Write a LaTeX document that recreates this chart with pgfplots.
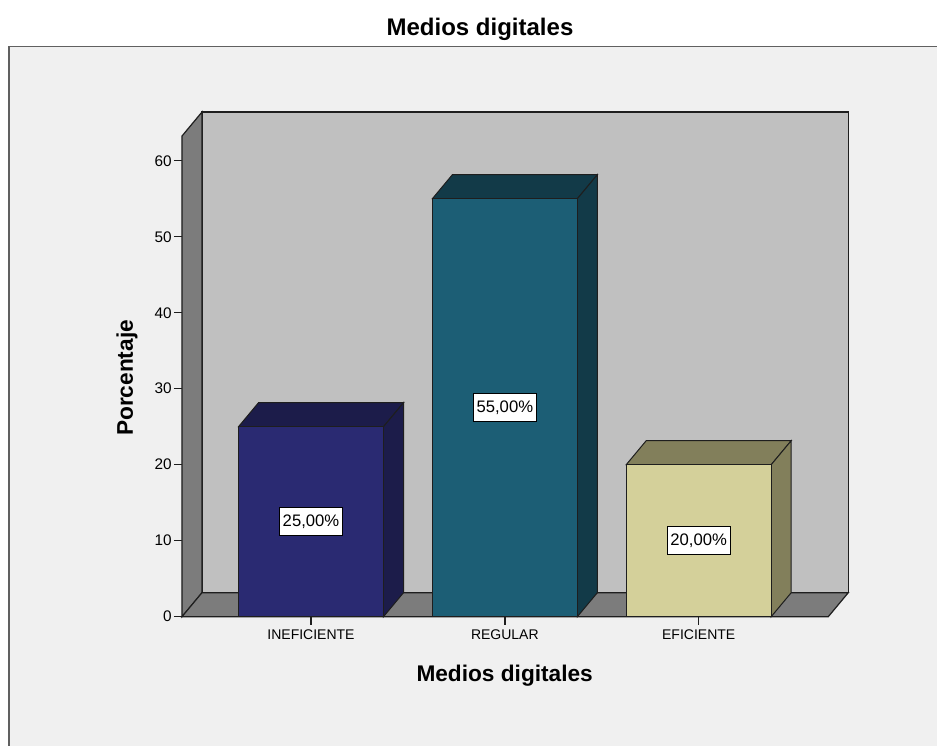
\documentclass[border=0pt]{standalone}
\usepackage{pgfplots}
\pgfplotsset{compat=1.18}
\usetikzlibrary{backgrounds}
\usepackage{fontspec}
\setmainfont{Liberation Sans}
\definecolor{framebg}{HTML}{F0F0F0}
\definecolor{frameline}{HTML}{606060}
\definecolor{backwall}{HTML}{C0C0C0}
\definecolor{sidewall}{HTML}{7C7C7C}
\definecolor{edge}{HTML}{1E1E1E}
\definecolor{inefF}{HTML}{2A2A72}
\definecolor{inefD}{HTML}{1C1C4A}
\definecolor{reguF}{HTML}{1C5E75}
\definecolor{reguD}{HTML}{123A48}
\definecolor{efiF}{HTML}{D4D09A}
\definecolor{efiD}{HTML}{827F5B}
\begin{document}
\begin{tikzpicture}
\begin{axis}[
  scale only axis, width=499.7pt, height=378.5pt,
  xmin=0.3345, xmax=3.7717, ymin=0, ymax=66.41,
  clip=false,
  axis lines*=left,
  axis line style={draw=none},
  tick align=outside,
  major tick length=6pt,
  tick style={edge, line width=1.1pt},
  xtick={1,2,3},
  xticklabels={INEFICIENTE,REGULAR,EFICIENTE},
  ytick={0,10,20,30,40,50,60},
  /pgf/number format/assume math mode=true,
  xticklabel style={font=\fontsize{10.5}{12}\selectfont, inner sep=3.5pt},
  yticklabel style={font=\fontsize{11.5}{13}\selectfont, inner sep=1.5pt},
  xlabel={Medios digitales},
  ylabel={Porcentaje},
  xlabel style={at={(rel axis cs:0.4843,-0.117)}, anchor=center, font=\fontsize{17}{19}\selectfont\bfseries},
  ylabel style={at={(rel axis cs:-0.0825,0.473)}, anchor=center, font=\fontsize{17}{19}\selectfont\bfseries},
]
\coordinate (O) at (axis cs:0.3345,0);
% back wall, left wall, floor
\addplot[fill=backwall, draw=edge, line width=0.9pt] coordinates {(0.4377,3.158) (3.7717,3.158) (3.7717,66.41) (0.4377,66.41)} --cycle;
\addplot[fill=sidewall, draw=edge, line width=0.9pt] coordinates {(0.3345,0) (0.4377,3.158) (0.4377,66.41) (0.3345,63.25)} --cycle;
\addplot[fill=sidewall, draw=edge, line width=0.9pt] coordinates {(0.3345,0) (3.6685,0) (3.7717,3.158) (0.4377,3.158)} --cycle;
% bar 1 INEFICIENTE 25
\addplot[fill=inefD, draw=edge, line width=0.75pt] coordinates {(0.626,25) (1.374,25) (1.4772,28.158) (0.7292,28.158)} --cycle;
\addplot[fill=inefD, draw=edge, line width=0.75pt] coordinates {(1.374,0) (1.4772,3.158) (1.4772,28.158) (1.374,25)} --cycle;
\addplot[ybar, bar width=0.748, bar shift=0pt, fill=inefF, draw=edge, line width=0.75pt] coordinates {(1,25)};
% bar 2 REGULAR 55
\addplot[fill=reguD, draw=edge, line width=0.75pt] coordinates {(1.626,55) (2.374,55) (2.4772,58.158) (1.7292,58.158)} --cycle;
\addplot[fill=reguD, draw=edge, line width=0.75pt] coordinates {(2.374,0) (2.4772,3.158) (2.4772,58.158) (2.374,55)} --cycle;
\addplot[ybar, bar width=0.748, bar shift=0pt, fill=reguF, draw=edge, line width=0.75pt] coordinates {(2,55)};
% bar 3 EFICIENTE 20
\addplot[fill=efiD, draw=edge, line width=0.75pt] coordinates {(2.626,20) (3.374,20) (3.4772,23.158) (2.7292,23.158)} --cycle;
\addplot[fill=efiD, draw=edge, line width=0.75pt] coordinates {(3.374,0) (3.4772,3.158) (3.4772,23.158) (3.374,20)} --cycle;
\addplot[ybar, bar width=0.748, bar shift=0pt, fill=efiF, draw=edge, line width=0.75pt] coordinates {(3,20)};
% value labels
\addplot[draw=none, mark=none, point meta=explicit symbolic,
  nodes near coords,
  every node near coord/.style={anchor=center, fill=white, draw=black, line width=0.6pt,
    font=\fontsize{12.5}{14}\selectfont, inner xsep=2.5pt, minimum height=21pt}]
  coordinates {(1,12.5) [25,00\%] (2,27.5) [55,00\%] (3,10) [20,00\%]};
\end{axis}
\begin{scope}[shift={(O)}, x=0.75pt, y=0.75pt]
  \begin{scope}[on background layer]
    \fill[white] (-182,-128.3) rectangle (755,616.7);
    \begin{scope}
      \clip (-182,-128.3) rectangle (755,616.7);
      \draw[fill=framebg, draw=frameline, line width=1.1pt] (-173,570) rectangle (780,-140);
    \end{scope}
  \end{scope}
  \node[anchor=base, font=\fontsize{18}{20}\selectfont\bfseries] at (298,580.7) {Medios digitales};
  \pgfresetboundingbox
  \path[use as bounding box] (-182,-128.3) rectangle (755,616.7);
\end{scope}
\end{tikzpicture}
\end{document}
